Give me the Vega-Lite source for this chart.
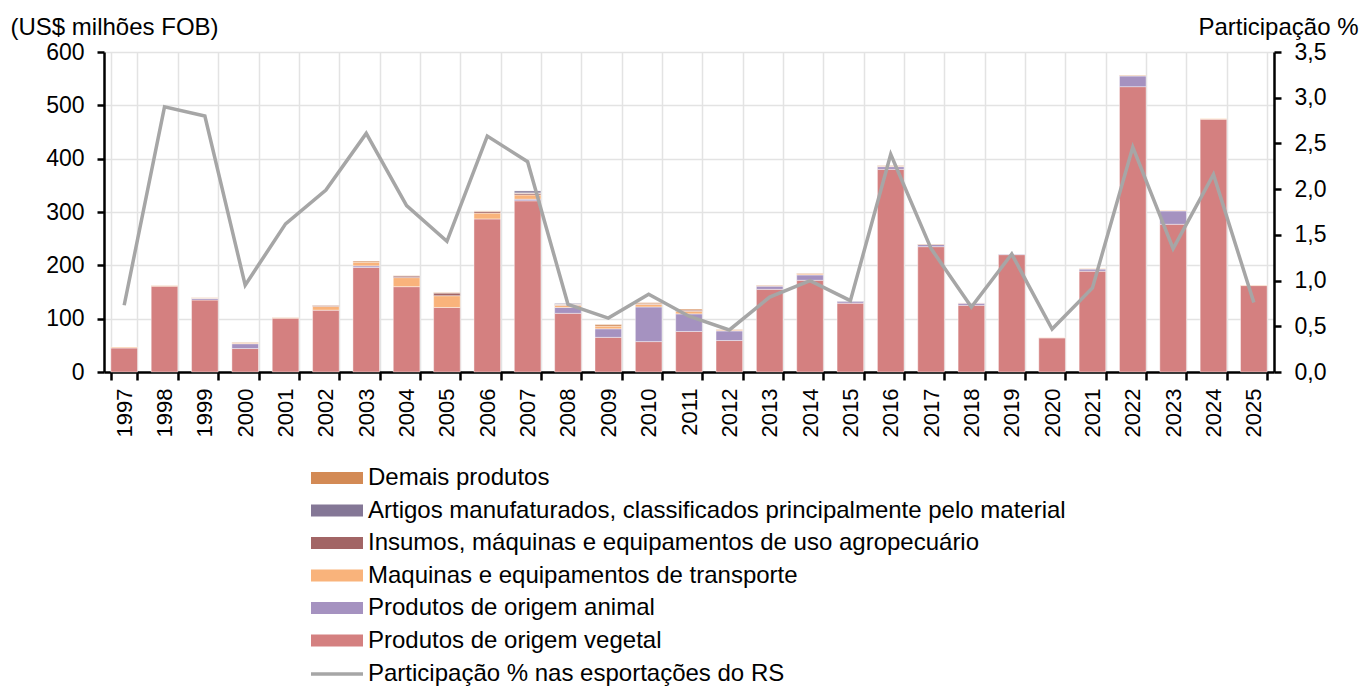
{
  "$schema": "https://vega.github.io/schema/vega-lite/v6.json",
  "width": 1170,
  "height": 320,
  "autosize": {"type": "none"},
  "padding": {"left": 104, "top": 52, "right": 94, "bottom": 314},
  "background": "white",
  "config": {
    "view": {"stroke": null},
    "font": "Liberation Sans",
    "axis": {"labelFont": "Liberation Sans", "titleFont": "Liberation Sans", "labelColor": "black", "titleColor": "black", "labelFontSize": 23, "titleFontSize": 24, "titleFontWeight": "normal"},
    "legend": {"labelFont": "Liberation Sans", "labelFontSize": 24, "labelColor": "black", "labelLimit": 900}
  },
  "datasets": {
    "barras": [
      {"ano": "1997", "categoria": "Produtos de origem vegetal", "valor": 45},
      {"ano": "1997", "categoria": "Maquinas e equipamentos de transporte", "valor": 1.5},
      {"ano": "1998", "categoria": "Produtos de origem vegetal", "valor": 161},
      {"ano": "1998", "categoria": "Maquinas e equipamentos de transporte", "valor": 1},
      {"ano": "1998", "categoria": "Demais produtos", "valor": 0.5},
      {"ano": "1999", "categoria": "Produtos de origem vegetal", "valor": 135},
      {"ano": "1999", "categoria": "Produtos de origem animal", "valor": 3},
      {"ano": "1999", "categoria": "Maquinas e equipamentos de transporte", "valor": 1},
      {"ano": "1999", "categoria": "Demais produtos", "valor": 0.5},
      {"ano": "2000", "categoria": "Produtos de origem vegetal", "valor": 44},
      {"ano": "2000", "categoria": "Produtos de origem animal", "valor": 9},
      {"ano": "2000", "categoria": "Maquinas e equipamentos de transporte", "valor": 1.5},
      {"ano": "2000", "categoria": "Demais produtos", "valor": 1},
      {"ano": "2001", "categoria": "Produtos de origem vegetal", "valor": 101},
      {"ano": "2001", "categoria": "Maquinas e equipamentos de transporte", "valor": 1},
      {"ano": "2001", "categoria": "Demais produtos", "valor": 0.5},
      {"ano": "2002", "categoria": "Produtos de origem vegetal", "valor": 116},
      {"ano": "2002", "categoria": "Maquinas e equipamentos de transporte", "valor": 7},
      {"ano": "2002", "categoria": "Insumos, máquinas e equipamentos de uso agropecuário", "valor": 2},
      {"ano": "2002", "categoria": "Demais produtos", "valor": 0.5},
      {"ano": "2003", "categoria": "Produtos de origem vegetal", "valor": 196},
      {"ano": "2003", "categoria": "Produtos de origem animal", "valor": 3},
      {"ano": "2003", "categoria": "Maquinas e equipamentos de transporte", "valor": 7},
      {"ano": "2003", "categoria": "Demais produtos", "valor": 2},
      {"ano": "2004", "categoria": "Produtos de origem vegetal", "valor": 160},
      {"ano": "2004", "categoria": "Maquinas e equipamentos de transporte", "valor": 17},
      {"ano": "2004", "categoria": "Insumos, máquinas e equipamentos de uso agropecuário", "valor": 3},
      {"ano": "2004", "categoria": "Demais produtos", "valor": 0.5},
      {"ano": "2005", "categoria": "Produtos de origem vegetal", "valor": 121},
      {"ano": "2005", "categoria": "Maquinas e equipamentos de transporte", "valor": 22},
      {"ano": "2005", "categoria": "Insumos, máquinas e equipamentos de uso agropecuário", "valor": 5},
      {"ano": "2005", "categoria": "Demais produtos", "valor": 1},
      {"ano": "2006", "categoria": "Produtos de origem vegetal", "valor": 287},
      {"ano": "2006", "categoria": "Maquinas e equipamentos de transporte", "valor": 11},
      {"ano": "2006", "categoria": "Insumos, máquinas e equipamentos de uso agropecuário", "valor": 3},
      {"ano": "2006", "categoria": "Demais produtos", "valor": 1},
      {"ano": "2007", "categoria": "Produtos de origem vegetal", "valor": 321},
      {"ano": "2007", "categoria": "Produtos de origem animal", "valor": 3},
      {"ano": "2007", "categoria": "Maquinas e equipamentos de transporte", "valor": 8},
      {"ano": "2007", "categoria": "Insumos, máquinas e equipamentos de uso agropecuário", "valor": 3},
      {"ano": "2007", "categoria": "Artigos manufaturados, classificados principalmente pelo material", "valor": 4},
      {"ano": "2007", "categoria": "Demais produtos", "valor": 0.5},
      {"ano": "2008", "categoria": "Produtos de origem vegetal", "valor": 110},
      {"ano": "2008", "categoria": "Produtos de origem animal", "valor": 11},
      {"ano": "2008", "categoria": "Maquinas e equipamentos de transporte", "valor": 4},
      {"ano": "2008", "categoria": "Insumos, máquinas e equipamentos de uso agropecuário", "valor": 1},
      {"ano": "2008", "categoria": "Artigos manufaturados, classificados principalmente pelo material", "valor": 2},
      {"ano": "2008", "categoria": "Demais produtos", "valor": 0.5},
      {"ano": "2009", "categoria": "Produtos de origem vegetal", "valor": 65},
      {"ano": "2009", "categoria": "Produtos de origem animal", "valor": 16},
      {"ano": "2009", "categoria": "Maquinas e equipamentos de transporte", "valor": 5},
      {"ano": "2009", "categoria": "Demais produtos", "valor": 3},
      {"ano": "2010", "categoria": "Produtos de origem vegetal", "valor": 57},
      {"ano": "2010", "categoria": "Produtos de origem animal", "valor": 65},
      {"ano": "2010", "categoria": "Maquinas e equipamentos de transporte", "valor": 5},
      {"ano": "2010", "categoria": "Insumos, máquinas e equipamentos de uso agropecuário", "valor": 1},
      {"ano": "2010", "categoria": "Demais produtos", "valor": 2},
      {"ano": "2011", "categoria": "Produtos de origem vegetal", "valor": 76},
      {"ano": "2011", "categoria": "Produtos de origem animal", "valor": 33},
      {"ano": "2011", "categoria": "Maquinas e equipamentos de transporte", "valor": 5},
      {"ano": "2011", "categoria": "Insumos, máquinas e equipamentos de uso agropecuário", "valor": 2},
      {"ano": "2011", "categoria": "Demais produtos", "valor": 2},
      {"ano": "2012", "categoria": "Produtos de origem vegetal", "valor": 59},
      {"ano": "2012", "categoria": "Produtos de origem animal", "valor": 18},
      {"ano": "2012", "categoria": "Maquinas e equipamentos de transporte", "valor": 1.5},
      {"ano": "2012", "categoria": "Demais produtos", "valor": 1},
      {"ano": "2013", "categoria": "Produtos de origem vegetal", "valor": 155},
      {"ano": "2013", "categoria": "Produtos de origem animal", "valor": 6},
      {"ano": "2013", "categoria": "Maquinas e equipamentos de transporte", "valor": 1},
      {"ano": "2013", "categoria": "Demais produtos", "valor": 1},
      {"ano": "2014", "categoria": "Produtos de origem vegetal", "valor": 172},
      {"ano": "2014", "categoria": "Produtos de origem animal", "valor": 10},
      {"ano": "2014", "categoria": "Maquinas e equipamentos de transporte", "valor": 2},
      {"ano": "2014", "categoria": "Demais produtos", "valor": 1},
      {"ano": "2015", "categoria": "Produtos de origem vegetal", "valor": 129},
      {"ano": "2015", "categoria": "Produtos de origem animal", "valor": 3},
      {"ano": "2015", "categoria": "Artigos manufaturados, classificados principalmente pelo material", "valor": 1},
      {"ano": "2016", "categoria": "Produtos de origem vegetal", "valor": 380},
      {"ano": "2016", "categoria": "Produtos de origem animal", "valor": 5},
      {"ano": "2016", "categoria": "Maquinas e equipamentos de transporte", "valor": 1},
      {"ano": "2016", "categoria": "Demais produtos", "valor": 1},
      {"ano": "2017", "categoria": "Produtos de origem vegetal", "valor": 235},
      {"ano": "2017", "categoria": "Produtos de origem animal", "valor": 4},
      {"ano": "2017", "categoria": "Demais produtos", "valor": 1},
      {"ano": "2018", "categoria": "Produtos de origem vegetal", "valor": 125},
      {"ano": "2018", "categoria": "Produtos de origem animal", "valor": 4},
      {"ano": "2018", "categoria": "Maquinas e equipamentos de transporte", "valor": 0.5},
      {"ano": "2019", "categoria": "Produtos de origem vegetal", "valor": 220},
      {"ano": "2019", "categoria": "Produtos de origem animal", "valor": 1},
      {"ano": "2020", "categoria": "Produtos de origem vegetal", "valor": 64},
      {"ano": "2020", "categoria": "Maquinas e equipamentos de transporte", "valor": 0.5},
      {"ano": "2021", "categoria": "Produtos de origem vegetal", "valor": 189},
      {"ano": "2021", "categoria": "Produtos de origem animal", "valor": 4},
      {"ano": "2021", "categoria": "Maquinas e equipamentos de transporte", "valor": 1},
      {"ano": "2022", "categoria": "Produtos de origem vegetal", "valor": 535},
      {"ano": "2022", "categoria": "Produtos de origem animal", "valor": 20},
      {"ano": "2022", "categoria": "Maquinas e equipamentos de transporte", "valor": 1},
      {"ano": "2022", "categoria": "Demais produtos", "valor": 1},
      {"ano": "2023", "categoria": "Produtos de origem vegetal", "valor": 277},
      {"ano": "2023", "categoria": "Produtos de origem animal", "valor": 25},
      {"ano": "2023", "categoria": "Maquinas e equipamentos de transporte", "valor": 1},
      {"ano": "2024", "categoria": "Produtos de origem vegetal", "valor": 474},
      {"ano": "2024", "categoria": "Maquinas e equipamentos de transporte", "valor": 1},
      {"ano": "2025", "categoria": "Produtos de origem vegetal", "valor": 162},
      {"ano": "2025", "categoria": "Maquinas e equipamentos de transporte", "valor": 1}
    ],
    "participacao": [
      {"ano": "1997", "serie": "Participação % nas esportações do RS", "part": 0.73},
      {"ano": "1998", "serie": "Participação % nas esportações do RS", "part": 2.90},
      {"ano": "1999", "serie": "Participação % nas esportações do RS", "part": 2.80},
      {"ano": "2000", "serie": "Participação % nas esportações do RS", "part": 0.95},
      {"ano": "2001", "serie": "Participação % nas esportações do RS", "part": 1.62},
      {"ano": "2002", "serie": "Participação % nas esportações do RS", "part": 1.99},
      {"ano": "2003", "serie": "Participação % nas esportações do RS", "part": 2.61},
      {"ano": "2004", "serie": "Participação % nas esportações do RS", "part": 1.82},
      {"ano": "2005", "serie": "Participação % nas esportações do RS", "part": 1.43},
      {"ano": "2006", "serie": "Participação % nas esportações do RS", "part": 2.58},
      {"ano": "2007", "serie": "Participação % nas esportações do RS", "part": 2.30},
      {"ano": "2008", "serie": "Participação % nas esportações do RS", "part": 0.74},
      {"ano": "2009", "serie": "Participação % nas esportações do RS", "part": 0.59},
      {"ano": "2010", "serie": "Participação % nas esportações do RS", "part": 0.85},
      {"ano": "2011", "serie": "Participação % nas esportações do RS", "part": 0.61},
      {"ano": "2012", "serie": "Participação % nas esportações do RS", "part": 0.46},
      {"ano": "2013", "serie": "Participação % nas esportações do RS", "part": 0.82},
      {"ano": "2014", "serie": "Participação % nas esportações do RS", "part": 1.00},
      {"ano": "2015", "serie": "Participação % nas esportações do RS", "part": 0.78},
      {"ano": "2016", "serie": "Participação % nas esportações do RS", "part": 2.38},
      {"ano": "2017", "serie": "Participação % nas esportações do RS", "part": 1.35},
      {"ano": "2018", "serie": "Participação % nas esportações do RS", "part": 0.71},
      {"ano": "2019", "serie": "Participação % nas esportações do RS", "part": 1.29},
      {"ano": "2020", "serie": "Participação % nas esportações do RS", "part": 0.47},
      {"ano": "2021", "serie": "Participação % nas esportações do RS", "part": 0.92},
      {"ano": "2022", "serie": "Participação % nas esportações do RS", "part": 2.46},
      {"ano": "2023", "serie": "Participação % nas esportações do RS", "part": 1.35},
      {"ano": "2024", "serie": "Participação % nas esportações do RS", "part": 2.16},
      {"ano": "2025", "serie": "Participação % nas esportações do RS", "part": 0.76}
    ]
  },
  "layer": [
    {
      "data": {"name": "barras"},
      "mark": {"type": "bar", "stroke": "white", "strokeWidth": 0.6, "strokeOpacity": 0.7},
      "encoding": {
        "x": {
          "field": "ano", "type": "ordinal", "title": null,
          "scale": {"paddingInner": 0.34, "paddingOuter": 0.17},
          "axis": {"tickBand": "extent", "labelAngle": -90, "labelAlign": "right", "labelBaseline": "middle", "labelPadding": 8, "labelFontSize": 22, "tickSize": 8, "tickWidth": 2.5, "tickColor": "black", "domainColor": "black", "domainWidth": 2.5, "grid": true, "gridColor": "#E3E3E3", "gridWidth": 1.5}
        },
        "y": {
          "aggregate": "sum", "field": "valor", "type": "quantitative", "stack": "zero",
          "scale": {"domain": [0, 600], "nice": false},
          "axis": {"orient": "left", "values": [0, 100, 200, 300, 400, 500, 600], "title": "(US$ milhões FOB)", "titleAngle": 0, "titleAlign": "left", "titleBaseline": "alphabetic", "titleX": -94, "titleY": -18, "labelPadding": 13, "tickSize": 7, "tickWidth": 2.5, "tickColor": "black", "domainColor": "black", "domainWidth": 2.5, "grid": true, "gridColor": "#E3E3E3", "gridWidth": 1.5}
        },
        "color": {
          "field": "categoria", "type": "nominal",
          "sort": ["Produtos de origem vegetal", "Produtos de origem animal", "Maquinas e equipamentos de transporte", "Insumos, máquinas e equipamentos de uso agropecuário", "Artigos manufaturados, classificados principalmente pelo material", "Demais produtos"],
          "scale": {
            "domain": ["Demais produtos", "Artigos manufaturados, classificados principalmente pelo material", "Insumos, máquinas e equipamentos de uso agropecuário", "Maquinas e equipamentos de transporte", "Produtos de origem animal", "Produtos de origem vegetal"],
            "range": ["#D38A55", "#847796", "#A26565", "#F9B37B", "#A592C0", "#D48080"]
          },
          "legend": {"title": null, "orient": "none", "legendX": 221, "legendY": 414, "symbolType": "M-2.6,-0.6H2.6V0.6H-2.6Z", "symbolSize": 400, "symbolStrokeWidth": 0, "symbolOpacity": 1, "labelOffset": 19, "rowPadding": 8.5}
        }
      }
    },
    {
      "data": {"name": "participacao"},
      "mark": {"type": "line", "strokeWidth": 3.5, "strokeJoin": "miter"},
      "encoding": {
        "x": {"field": "ano", "type": "ordinal"},
        "y": {
          "field": "part", "type": "quantitative",
          "scale": {"domain": [0, 3.5], "nice": false},
          "axis": {"orient": "right", "values": [0, 0.5, 1, 1.5, 2, 2.5, 3, 3.5], "labelExpr": "replace(format(datum.value, '.1f'), '.', ',')", "title": "Participação %", "titleAngle": 0, "titleAlign": "right", "titleBaseline": "alphabetic", "titleX": 84, "titleY": -18, "labelPadding": 13, "tickSize": 7, "tickWidth": 2.5, "tickColor": "black", "domainColor": "black", "domainWidth": 2.5, "grid": false}
        },
        "stroke": {
          "field": "serie", "type": "nominal",
          "scale": {"range": ["#A6A6A6"]},
          "legend": {"title": null, "orient": "none", "legendX": 221, "legendY": 610, "symbolType": "M-2.6,0H2.6", "symbolSize": 400, "symbolStrokeWidth": 3.5, "labelOffset": 19}
        }
      }
    }
  ],
  "resolve": {"scale": {"y": "independent"}}
}
